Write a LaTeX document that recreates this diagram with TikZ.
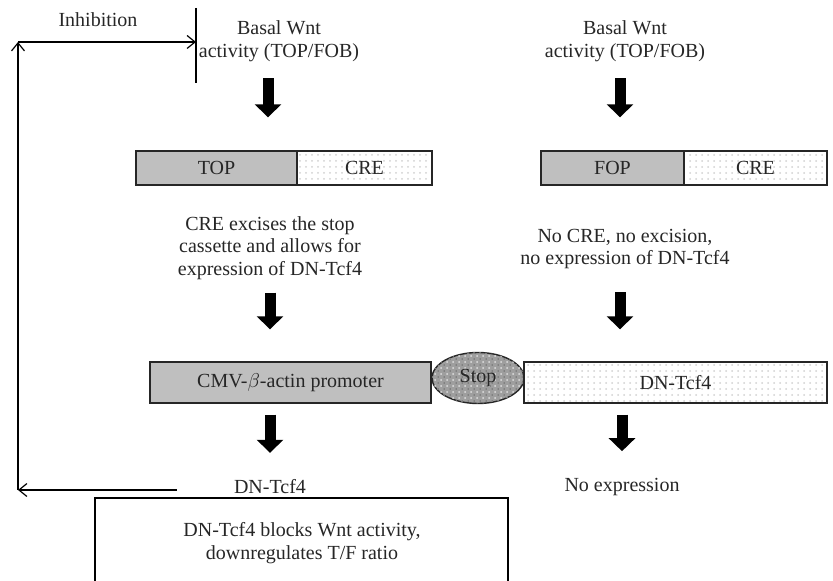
\documentclass[tikz,border=0pt]{standalone}
\usepackage{fontspec}
\setmainfont{Liberation Serif}
\usetikzlibrary{arrows.meta,positioning,shapes.geometric,patterns}

\begin{document}
\begin{tikzpicture}[
  x=0.5pt, y=-0.5pt,
  every node/.style={font=\fontsize{10}{11.25}\selectfont, text=black!85},
  txt/.style={align=center},
  promo/.style={
    rectangle, draw=black!85, line width=0.7pt,
    fill=black!25, minimum height=17pt, inner sep=0pt
  },
  dotbox/.style={
    rectangle, draw=black!85, line width=0.7pt,
    pattern=dots, pattern color=black!18,
    minimum height=17pt, inner sep=0pt
  },
  stopcap/.style={
    ellipse, draw=black!85, line width=0.7pt, fill=black!38,
    postaction={pattern=crosshatch dots, pattern color=black!12},
    postaction={pattern=dots, pattern color=black!60},
    minimum width=46pt, minimum height=25.5pt, inner sep=0pt
  },
  blockarr/.style={line width=5.5pt, -{Triangle[length=6.5pt, width=13pt]}},
  inharr/.style={line width=0.6pt, -{Straight Barb[length=4pt, width=6.5pt]}}
]
\useasboundingbox (0,0) rectangle (833,581);

% feedback loop
\node[txt] (inhib) at (98,20) {Inhibition};
\coordinate (barTop) at (196,8);
\coordinate (barBot) at (196,83);
\coordinate (barMid) at (196,42);
\coordinate (loopTop) at (18,42);
\coordinate (loopBot) at (18,490);

% top row
\node[txt] (basalL) at (279,41) {Basal Wnt\\activity (TOP/FOB)};
\node[txt] (basalR) at (625,41) {Basal Wnt\\activity (TOP/FOB)};

\node[promo, minimum width=80.5pt]  (topL) at (216.5,168) {TOP};
\node[dotbox, minimum width=67.5pt] (creL) at (364.5,168) {CRE};
\node[promo, minimum width=71.5pt]  (fopR) at (612.5,168) {FOP};
\node[dotbox, minimum width=71.5pt] (creR) at (755.5,168) {CRE};

\node[txt] (exciseL) at (270,248)
  {CRE excises the stop\\cassette and allows for\\expression of DN-Tcf4};
\node[txt] (nocreR) at (625,249)
  {No CRE, no excision,\\no expression of DN-Tcf4};

% construct
\node[promo, minimum width=140.5pt, minimum height=20.5pt] (cmv) at (290.5,382.5)
  {CMV-$\beta$-actin promoter};
\node[stopcap] (stop) at (478,378) {Stop};
\node[dotbox, minimum width=151.5pt, minimum height=20.5pt] (dnbox) at (675.5,382.5)
  {DN-Tcf4};

\node[txt] (dnL) at (270,487) {DN-Tcf4};
\node[txt] (noexp) at (622,487) {No expression};
\node[txt] (blocks) at (302,543)
  {DN-Tcf4 blocks Wnt activity,\\downregulates T/F ratio};
\draw[line width=0.6pt] (95,581) -- (95,498) -- (508,498) -- (508,581);

% block arrows
\draw[blockarr] ([xshift=-5.5pt,yshift=-5pt]basalL.south) -- ([xshift=-5.5pt,yshift=16.5pt]basalL.south |- topL.north);
\draw[blockarr] ([xshift=-2.5pt,yshift=-5pt]basalR.south) -- ([xshift=-2.5pt,yshift=16.5pt]basalR.south |- fopR.north);
\draw[blockarr] ([yshift=-3pt]exciseL.south) -- ([yshift=16pt]exciseL.south |- cmv.north);
\draw[blockarr] ([xshift=-2.5pt,yshift=-8pt]nocreR.south) -- ([xshift=-2.5pt,yshift=16pt]nocreR.south |- dnbox.north);
\draw[blockarr] ([yshift=-5.5pt]dnL.north |- cmv.south) -- ([yshift=10pt]dnL.north);
\draw[blockarr] ([yshift=-5.5pt]noexp.north |- dnbox.south) -- ([yshift=10pt]noexp.north);

% inhibition
\draw[line width=0.6pt] (barTop) -- (barBot);
\draw[inharr, shorten <=25pt] (dnL.west |- loopBot) -- (loopBot);
\draw[inharr] (loopBot) -- (loopTop);
\draw[inharr] (loopTop) -- (barMid);
\end{tikzpicture}
\end{document}
